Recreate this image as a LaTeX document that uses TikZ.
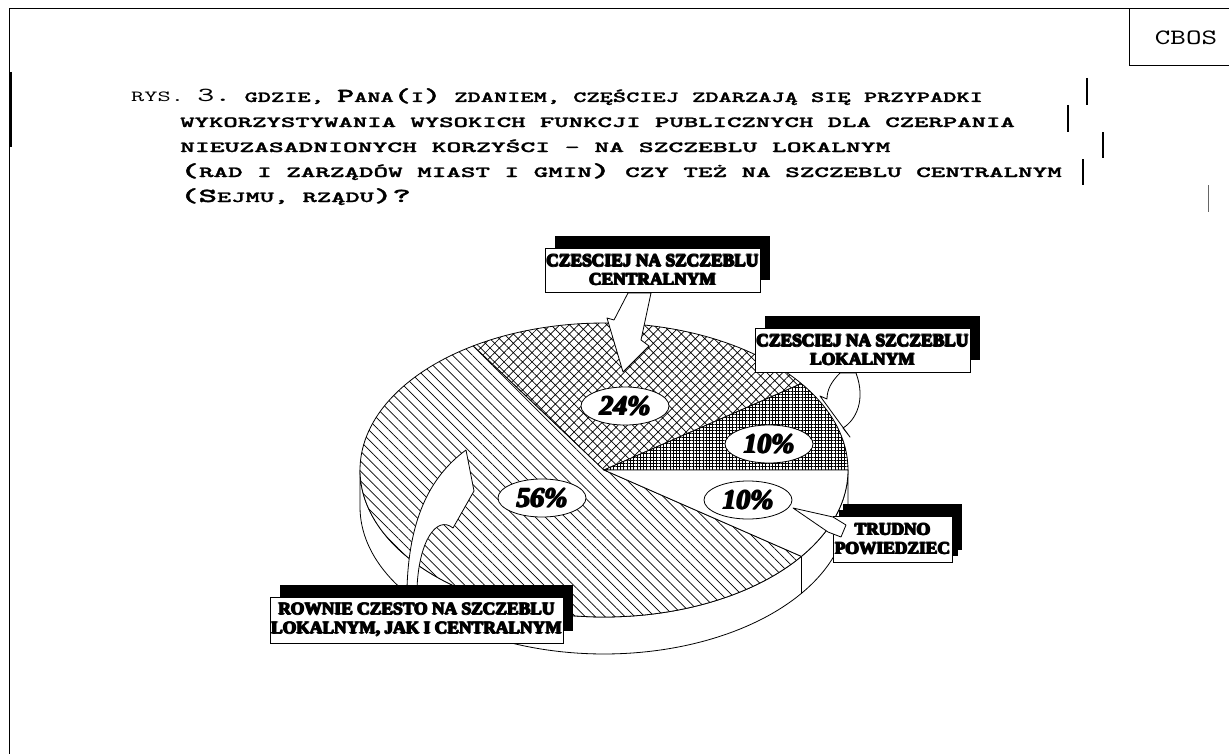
\documentclass[tikz,border=0pt]{standalone}
\usepackage{fontspec}
\usetikzlibrary{patterns.meta,shapes.geometric,shadows}
\newfontfamily\lblfont{Liberation Serif}
\newfontfamily\pctfont{Liberation Serif}
\newfontfamily\ttlfont{lmmono10-regular.otf}[BoldFont=lmmonolt10-bold.otf, BoldFeatures={FakeBold=1.2}]
\newcommand\bigc[1]{{\fontsize{20}{24}\selectfont #1}}
\newcommand\heavy[2][0.8bp]{\leavevmode\rlap{\kern-#1#2}\rlap{\kern#1#2}\rlap{\raisebox{#1}{#2}}\rlap{\raisebox{-#1}{#2}}#2}
\def\pcx{604}\def\pcy{470}\def\prx{244}\def\pry{147}\def\pdep{37}
\tikzset{
  ttl/.style={font=\ttlfont\fontsize{15.5}{20}\selectfont\frenchspacing, inner sep=0pt, anchor=base west},
  pieline/.style={line width=0.8bp, line join=round},
  pct/.style={ellipse, draw, fill=white, line width=0.8bp, minimum width=88bp, minimum height=38bp, inner sep=0pt,
    font=\pctfont\bfseries\itshape\fontsize{28}{28}\selectfont},
  lbl/.style={draw, fill=white, line width=0.8bp, inner sep=0pt, align=center,
    font=\lblfont\bfseries\fontsize{17.5}{19}\selectfont,
    drop shadow={shadow xshift=10bp, shadow yshift=12bp, fill=black, opacity=1}},
  arr/.style={draw, fill=white, line width=0.8bp, line join=round},
  bar/.style={line width=2bp}
}
\begin{document}
\begin{tikzpicture}[x=1bp,y=-1bp]
\fill[white] (0,0) rectangle (1229,754);
\useasboundingbox (0,0) rectangle (1229,754);
% frame
\draw[line width=1bp] (9,754) -- (9,9) -- (1229,9);
\draw[line width=3bp] (10,72) -- (10,147);
\draw[line width=0.8bp] (1229,65) -- (1129,65) -- (1129,9);
\node[font=\ttlfont\fontsize{22}{22}\selectfont, inner sep=0pt] (cbos) at (1186,38) {\scalebox{1.35}[1]{CBOS}};
% title
\node[ttl] (t1) at (131,102) {\scalebox{1.63}[1]{RYS. \bigc{3.} \bfseries GDZIE, \bigc{P}ANA\bigc{(}I\bigc{)} ZDANIEM, CZĘŚCIEJ ZDARZAJĄ SIĘ PRZYPADKI}};
\node[ttl] (t2) at (180,127) {\scalebox{1.775}[1]{\bfseries WYKORZYSTYWANIA WYSOKICH FUNKCJI PUBLICZNYCH DLA CZERPANIA}};
\node[ttl] (t3) at (180,152) {\scalebox{1.825}[1]{\bfseries NIEUZASADNIONYCH KORZYŚCI - NA SZCZEBLU LOKALNYM}};
\node[ttl] (t4) at (180,177) {\scalebox{1.795}[1]{\bfseries \bigc{(}RAD I ZARZĄDÓW MIAST I GMIN\bigc{)} CZY TEŻ NA SZCZEBLU CENTRALNYM}};
\node[ttl] (t5) at (180,202) {\scalebox{1.76}[1]{\bfseries \bigc{(S}EJMU, RZĄDU\bigc{)?}}};
\draw[bar] (1087,78) -- (1087,105);
\draw[bar] (1068,105) -- (1068,132);
\draw[bar] (1103,132) -- (1103,158);
\draw[bar] (1083,159) -- (1083,185);
\draw[line width=1bp, black!60] (1208,185) -- (1208,212);
% pie walls
\draw[pieline, fill=white] plot[domain=180:324, samples=80] ({\pcx+\prx*cos(\x)},{\pcy-\pry*sin(\x)})
  -- plot[domain=324:180, samples=80] ({\pcx+\prx*cos(\x)},{\pcy+\pdep-\pry*sin(\x)}) -- cycle;
\draw[pieline, fill=white] plot[domain=324:360, samples=30] ({\pcx+\prx*cos(\x)},{\pcy-\pry*sin(\x)})
  -- plot[domain=360:324, samples=30] ({\pcx+\prx*cos(\x)},{\pcy+\pdep-\pry*sin(\x)}) -- cycle;
% pie top
\draw[pieline, preaction={fill=white}, pattern={Lines[angle=-45,distance=7bp,line width=0.7bp]}]
  (\pcx,\pcy) -- plot[domain=122.4:324, samples=120] ({\pcx+\prx*cos(\x)},{\pcy-\pry*sin(\x)}) -- cycle;
\draw[pieline, preaction={fill=white}, pattern={Hatch[angle=45,distance=6.6bp,line width=0.7bp]}]
  (\pcx,\pcy) -- plot[domain=36:122.4, samples=60] ({\pcx+\prx*cos(\x)},{\pcy-\pry*sin(\x)}) -- cycle;
\draw[pieline, preaction={fill=white}, pattern={Hatch[angle=0,distance=3.3bp,line width=0.8bp]}]
  (\pcx,\pcy) -- plot[domain=0:36, samples=30] ({\pcx+\prx*cos(\x)},{\pcy-\pry*sin(\x)}) -- cycle;
\draw[pieline, fill=white]
  (\pcx,\pcy) -- plot[domain=-36:0, samples=30] ({\pcx+\prx*cos(\x)},{\pcy-\pry*sin(\x)}) -- cycle;
% percent labels
\node[pct] (p24) at (625,406) {\heavy[0.9bp]{24\%}};
\node[pct] (p10a) at (769,444) {\heavy[0.9bp]{10\%}};
\node[pct] (p10b) at (748,500) {\heavy[0.9bp]{10\%}};
\node[pct] (p56) at (542,498) {\heavy[0.9bp]{56\%}};
% arrows (drawn under boxes)
\draw[arr] (628,293) -- (614,320) -- (607,318) -- (623,372) -- (649,346) -- (641,340) -- (651,293) -- cycle;
\draw[arr] (840,373) .. controls (831,382) and (827,390) .. (827,399) -- (820,396) -- (850,437) -- (843,428)
  .. controls (856,420) and (866,400) .. (856,373) -- cycle;
\draw[arr] (407,588) .. controls (409,522) and (428,478) .. (466,450) -- (474,491) -- (453,528)
  .. controls (437,515) and (419,540) .. (417,588) -- cycle;
% label boxes
\node[lbl, minimum width=215bp, minimum height=44bp] (b1) at (652.5,270) {\heavy{CZESCIEJ NA SZCZEBLU}\\\heavy{CENTRALNYM}};
\node[lbl, minimum width=215bp, minimum height=44bp] (b2) at (862.5,350) {\heavy{CZESCIEJ NA SZCZEBLU}\\\heavy{LOKALNYM}};
\node[lbl, minimum width=119bp, minimum height=46bp, drop shadow={shadow xshift=6bp, shadow yshift=6bp, fill=black, opacity=1}] (b3) at (892.5,539) {\heavy{TRUDNO}\\\heavy{POWIEDZIEC}};
\node[lbl, minimum width=293bp, minimum height=46bp] (b4) at (416.5,620) {\heavy{ROWNIE CZESTO NA SZCZEBLU}\\\heavy{LOKALNYM, JAK I CENTRALNYM}};
% arrow from TRUDNO box to its percent label
\draw[arr] (793,508) -- (833,517) -- (846,525) -- (841,537) -- (828,532) -- cycle;
\end{tikzpicture}
\end{document}
